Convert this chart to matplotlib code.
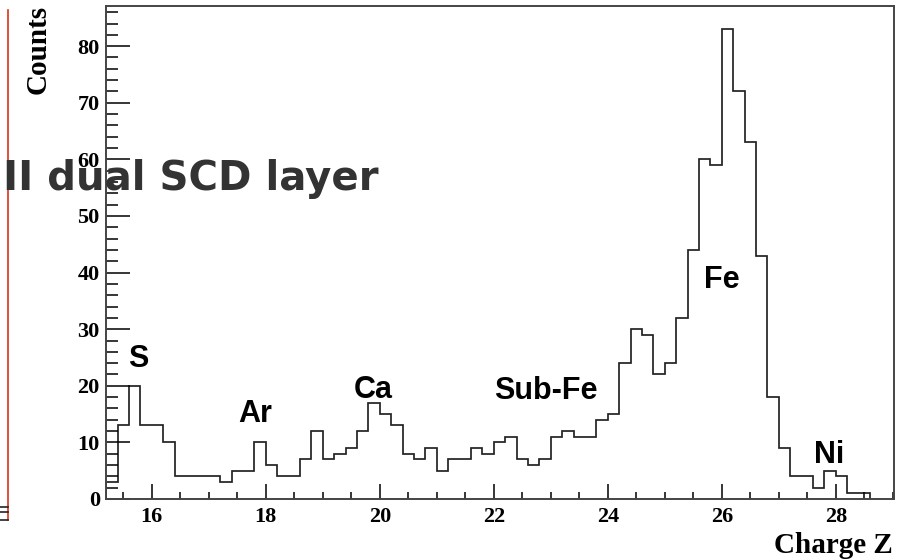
import numpy as np
import matplotlib.pyplot as plt
from matplotlib.ticker import MultipleLocator

# histogram of reconstructed charge, 0.2 wide bins starting at Z = 15.2
bin_start = 15.2
bin_width = 0.2
counts = [3, 13, 20, 13, 13, 10, 4, 4, 4, 4,
          3, 5, 5, 10, 6, 4, 4, 7, 12, 7,
          8, 9, 12, 17, 15, 13, 8, 7, 9, 5,
          7, 7, 9, 8, 10, 11, 7, 6, 7, 11,
          12, 11, 11, 14, 15, 24, 30, 29, 22, 24,
          32, 44, 60, 59, 83, 72, 63, 43, 18, 9,
          4, 4, 2, 5, 4, 1, 1]
edges = np.round(bin_start + bin_width * np.arange(len(counts) + 1), 2)

# element labels (x, baseline y)
peak_names = ["S", "Ar", "Ca", "Sub-Fe", "Fe", "Ni"]
peak_x = [15.77, 17.81, 19.88, 22.91, 26.0, 27.88]
peak_y = [23.3, 13.65, 17.8, 17.7, 37.2, 6.3]

W, H = 911, 559
fig = plt.figure(figsize=(W / 100, H / 100), dpi=100)
ax = fig.add_axes([106 / W, 1 - 499 / H, (894 - 106) / W, (499 - 5.7) / H])

ax.stairs(counts, edges, color="#222222", lw=1.25)

ax.set_xlim(15.198, 29.02)
ax.set_ylim(0, 87.15)

# ROOT style axes: ticks inside, no ticks on top/right
ax.xaxis.set_major_locator(MultipleLocator(2))
ax.xaxis.set_minor_locator(MultipleLocator(0.5))
ax.yaxis.set_major_locator(MultipleLocator(10))
ax.yaxis.set_minor_locator(MultipleLocator(2))
ax.tick_params(axis="x", which="major", direction="in", length=10.5, width=1.1, pad=6)
ax.tick_params(axis="x", which="minor", direction="in", length=4.8, width=1.1)
ax.tick_params(axis="y", which="major", direction="in", length=17, width=1.1, pad=4.5)
ax.tick_params(axis="y", which="minor", direction="in", length=8.5, width=1.1)
for lab in ax.get_xticklabels() + ax.get_yticklabels():
    lab.set_family("Liberation Serif")
    lab.set_weight("bold")
    lab.set_fontsize(16)
for sp in ax.spines.values():
    sp.set_color("#444444")
    sp.set_linewidth(1.4)

for name, x, y in zip(peak_names, peak_x, peak_y):
    ax.text(x, y, name, ha="center", va="baseline", fontsize=22,
            family="Liberation Sans", weight="bold", color="black")

# axis titles
fig.text(38 / W, 1 - 5 / H, "Counts", rotation=90, ha="center", va="top",
         family="Liberation Serif", weight="bold", fontsize=21)
fig.text(893 / W, 1 - 553 / H, "Charge Z", ha="right", va="baseline",
         family="Liberation Serif", weight="bold", fontsize=21)

# leftover frame of the neighbouring panel
fig.add_artist(plt.Line2D([8 / W, 8 / W], [1 - 10 / H, 1 - 520 / H],
                          color="#d9341c", lw=1.2))
for yy in (507, 512, 520):
    fig.add_artist(plt.Line2D([0, 8 / W], [1 - yy / H, 1 - yy / H],
                              color="#222222", lw=1.2))

# overlay caption
fig.text(3 / W, 1 - 190 / H, "II dual SCD layer", ha="left", va="baseline",
         family="DejaVu Sans", weight="bold", fontsize=29, color="#333333",
         zorder=10)

fig.savefig("out.png", dpi=100)
